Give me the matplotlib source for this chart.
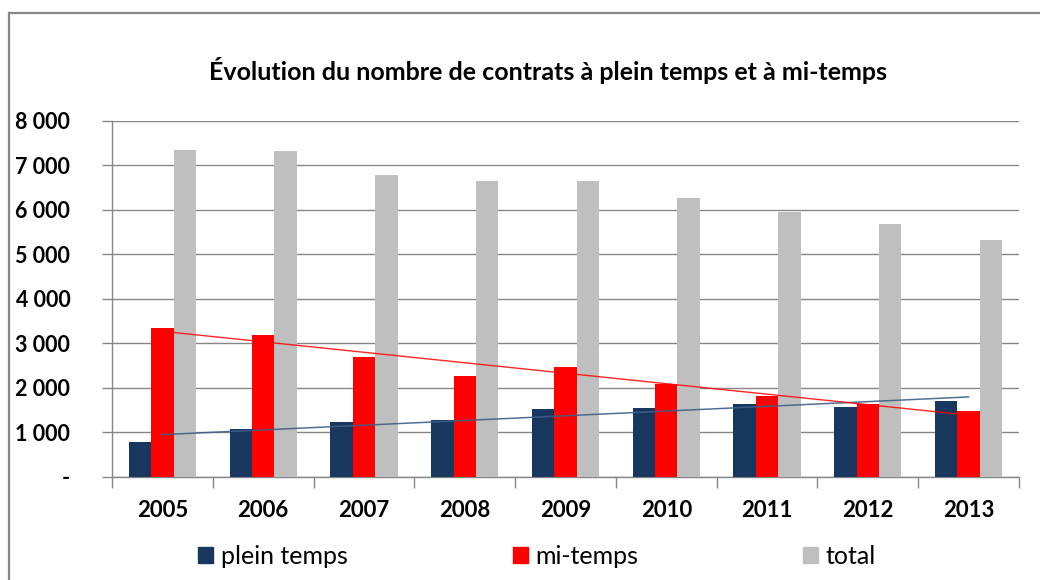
import numpy as np
import matplotlib.pyplot as plt
from matplotlib.lines import Line2D

annees = ['2005', '2006', '2007', '2008', '2009', '2010', '2011', '2012', '2013']
plein_temps = [772, 1064, 1228, 1281, 1513, 1543, 1640, 1573, 1708]
mi_temps = [3348, 3176, 2697, 2262, 2457, 2082, 1813, 1625, 1468]
total = [7341, 7318, 6787, 6644, 6644, 6255, 5940, 5678, 5318]

plt.rcParams['font.family'] = ['Lato', 'DejaVu Sans']

bleu = '#17375E'
rouge = '#FF0000'
gris = '#BFBFBF'

fig = plt.figure(figsize=(10.4, 5.8), dpi=100)
ax = fig.add_axes([112/1040, 1 - 476.7/580, 907/1040, 356/580])

x = np.arange(len(annees))
w = 0.222
ax.bar(x - w, plein_temps, w, color=bleu, zorder=3)
ax.bar(x, mi_temps, w, color=rouge, zorder=3)
ax.bar(x + w, total, w, color=gris, zorder=3)

# courbes de tendance (linéaires)
p1 = np.polyfit(x, plein_temps, 1)
p2 = np.polyfit(x, mi_temps, 1)
xt1 = np.array([0, len(annees) - 1])
xt2 = np.array([w / 2, len(annees) - 1 - w / 2])
ax.plot(xt1, np.polyval(p1, xt1), color='#3E5F8A', lw=1.1, alpha=0.9, zorder=4)
ax.plot(xt2, np.polyval(p2, xt2), color=rouge, lw=1.0, alpha=0.85, zorder=4)

ax.set_xlim(-0.5, len(annees) - 0.5)
ax.set_ylim(0, 8000)
ax.set_yticks(range(0, 8001, 1000))
ax.set_yticklabels(['-'] + ['%d 000' % k for k in range(1, 9)])
ax.set_xticks(x)
ax.set_xticklabels(annees)
ax.set_xticks(np.arange(-0.5, len(annees)), minor=True)
ax.tick_params(axis='x', which='major', length=0, pad=17, labelsize=16)
ax.tick_params(axis='x', which='minor', length=8, color='#868686', width=1)
ax.tick_params(axis='y', length=7, color='#868686', width=1, pad=23, labelsize=15.5)
for lab in ax.get_xticklabels() + ax.get_yticklabels():
    lab.set_fontweight('bold')
ax.yaxis.grid(True, color='#868686', lw=1, zorder=0)
for s in ['top', 'right']:
    ax.spines[s].set_visible(False)
for s in ['left', 'bottom']:
    ax.spines[s].set_color('#868686')
    ax.spines[s].set_linewidth(1)

fig.text(548/1040, 1 - 70/580, 'Évolution du nombre de contrats à plein temps et à mi-temps',
         ha='center', va='center', fontsize=18, fontweight='bold')

# cadre du graphique
fig.add_artist(Line2D([9/1040, 9/1040], [0, 1 - 13/580], transform=fig.transFigure,
                      color='#868686', lw=1.6))
fig.add_artist(Line2D([9/1040, 1], [1 - 13/580, 1 - 13/580], transform=fig.transFigure,
                      color='#868686', lw=1.6))

handles = [plt.Rectangle((0, 0), 1, 1, color=c) for c in [bleu, rouge, gris]]
fig.legend(handles, ['plein temps', 'mi-temps', 'total'], loc='center',
           bbox_to_anchor=(537/1040, 1 - 556/580), ncol=3, frameon=False,
           fontsize=18, handlelength=0.6, handleheight=0.6, handletextpad=0.3,
           columnspacing=6.6)

fig.savefig('out.png', dpi=100)
